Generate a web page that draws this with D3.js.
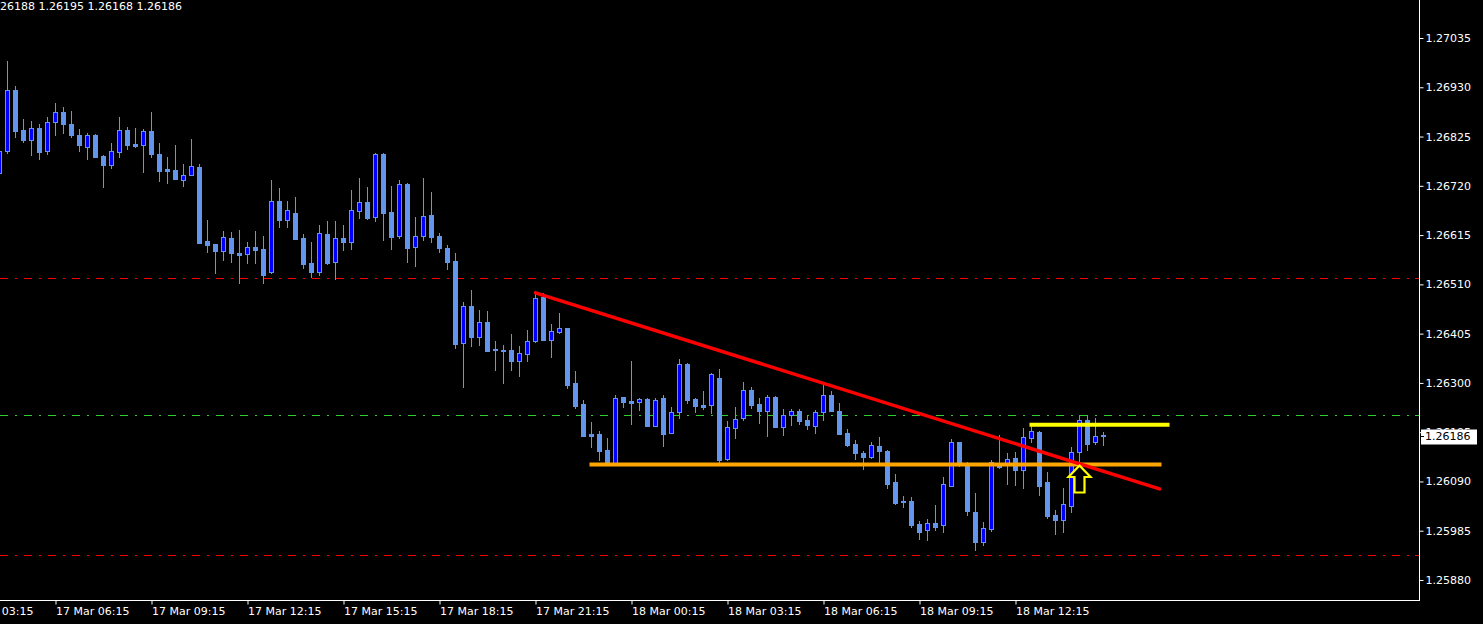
<!DOCTYPE html>
<html><head><meta charset="utf-8">
<script src="https://cdn.jsdelivr.net/npm/d3@7"></script>
<style>html,body{margin:0;padding:0;background:#000;overflow:hidden}svg{display:block}</style>
</head><body>
<svg id="chart" width="1483" height="624"></svg>
<script>
// ---- DATA (GBPUSD M15, 17 Mar 04:30 .. 18 Mar 15:00) ----
const openP = [1.26747,1.26795,1.26924,1.26839,1.26818,1.26843,1.26795,1.26857,1.26877,1.26852,1.26828,1.26803,1.26828,1.26784,1.26765,1.26793,1.26839,1.26809,1.26806,1.26837,1.26788,1.26756,1.26754,1.26733,1.26744,1.26760,1.26602,1.26596,1.26582,1.26609,1.26577,1.26574,1.26590,1.26585,1.26536,1.26688,1.26648,1.26662,1.26609,1.26555,1.26537,1.26617,1.26558,1.26609,1.26601,1.26667,1.26685,1.26654,1.26788,1.26664,1.26614,1.26724,1.26590,1.26614,1.26658,1.26613,1.26588,1.26560,1.26384,1.26464,1.26398,1.26430,1.26372,1.26371,1.26370,1.26347,1.26362,1.26390,1.26483,1.26392,1.26409,1.26417,1.26300,1.26255,1.26191,1.26191,1.26157,1.26129,1.26270,1.26261,1.26260,1.26266,1.26209,1.26268,1.26194,1.26237,1.26340,1.26266,1.26253,1.26252,1.26310,1.26137,1.26204,1.26226,1.26285,1.26255,1.26241,1.26270,1.26207,1.26232,1.26240,1.26222,1.26209,1.26237,1.26274,1.26240,1.26193,1.26170,1.26150,1.26143,1.26166,1.26155,1.26089,1.26048,1.26048,1.25999,1.25986,1.26001,1.25998,1.26081,1.26174,1.26123,1.26025,1.25962,1.25989,1.26122,1.26127,1.26140,1.26115,1.26183,1.26195,1.26089,1.26018,1.26008,1.26038,1.26153,1.26221,1.26175,1.26188];
const highP = [1.26801,1.26986,1.26933,1.26862,1.26858,1.26851,1.26867,1.26897,1.26888,1.26879,1.26841,1.26833,1.26830,1.26786,1.26811,1.26867,1.26845,1.26843,1.26841,1.26877,1.26811,1.26781,1.26807,1.26767,1.26820,1.26767,1.26647,1.26597,1.26624,1.26622,1.26626,1.26600,1.26624,1.26613,1.26732,1.26715,1.26688,1.26696,1.26617,1.26600,1.26636,1.26645,1.26645,1.26636,1.26711,1.26737,1.26717,1.26789,1.26789,1.26720,1.26732,1.26725,1.26654,1.26737,1.26707,1.26619,1.26594,1.26577,1.26472,1.26498,1.26455,1.26453,1.26389,1.26381,1.26404,1.26379,1.26413,1.26496,1.26492,1.26425,1.26449,1.26418,1.26325,1.26264,1.26217,1.26197,1.26183,1.26274,1.26271,1.26347,1.26268,1.26267,1.26268,1.26274,1.26249,1.26351,1.26342,1.26267,1.26283,1.26321,1.26330,1.26219,1.26249,1.26302,1.26291,1.26268,1.26274,1.26272,1.26244,1.26244,1.26244,1.26230,1.26242,1.26295,1.26283,1.26257,1.26202,1.26178,1.26155,1.26174,1.26185,1.26157,1.26106,1.26059,1.26057,1.26006,1.26010,1.26040,1.26100,1.26180,1.26175,1.26131,1.26065,1.26004,1.26136,1.26189,1.26151,1.26153,1.26204,1.26208,1.26197,1.26110,1.26029,1.26076,1.26163,1.26232,1.26232,1.26225,1.26195];
const lowP = [1.26741,1.26789,1.26825,1.26814,1.26786,1.26778,1.26788,1.26829,1.26833,1.26823,1.26795,1.26778,1.26781,1.26718,1.26759,1.26782,1.26799,1.26803,1.26750,1.26782,1.26731,1.26725,1.26734,1.26720,1.26742,1.26598,1.26580,1.26535,1.26562,1.26558,1.26513,1.26555,1.26555,1.26513,1.26535,1.26632,1.26632,1.26606,1.26545,1.26526,1.26531,1.26553,1.26522,1.26584,1.26586,1.26651,1.26649,1.26645,1.26604,1.26585,1.26609,1.26558,1.26549,1.26604,1.26600,1.26579,1.26543,1.26374,1.26291,1.26379,1.26381,1.26368,1.26328,1.26300,1.26328,1.26315,1.26347,1.26388,1.26391,1.26356,1.26407,1.26290,1.26246,1.26186,1.26164,1.26136,1.26128,1.26127,1.26249,1.26213,1.26242,1.26208,1.26208,1.26166,1.26193,1.26226,1.26258,1.26239,1.26244,1.26236,1.26131,1.26136,1.26183,1.26222,1.26247,1.26215,1.26187,1.26206,1.26190,1.26211,1.26213,1.26202,1.26194,1.26222,1.26240,1.26191,1.26166,1.26138,1.26117,1.26140,1.26130,1.26077,1.26043,1.26035,1.25993,1.25967,1.25966,1.25987,1.25982,1.26080,1.26123,1.26019,1.25944,1.25955,1.25985,1.26119,1.26085,1.26082,1.26076,1.26175,1.26061,1.26012,1.25978,1.25982,1.26025,1.26132,1.26157,1.26170,1.26168];
const closeP = [1.26794,1.26924,1.26837,1.26818,1.26843,1.26793,1.26855,1.26877,1.26852,1.26828,1.26806,1.26828,1.26782,1.26765,1.26794,1.26839,1.26808,1.26805,1.26837,1.26788,1.26752,1.26752,1.26735,1.26743,1.26762,1.26599,1.26594,1.26582,1.26611,1.26577,1.26573,1.26590,1.26584,1.26531,1.26688,1.26648,1.26668,1.26607,1.26554,1.26537,1.26619,1.26555,1.26609,1.26601,1.26668,1.26685,1.26651,1.26788,1.26663,1.26611,1.26724,1.26588,1.26613,1.26656,1.26611,1.26588,1.26558,1.26383,1.26464,1.26398,1.26430,1.26369,1.26370,1.26369,1.26347,1.26364,1.26389,1.26481,1.26392,1.26411,1.26417,1.26296,1.26251,1.26187,1.26187,1.26155,1.26129,1.26268,1.26260,1.26258,1.26266,1.26209,1.26264,1.26192,1.26238,1.26340,1.26264,1.26251,1.26249,1.26319,1.26136,1.26206,1.26224,1.26285,1.26253,1.26240,1.26270,1.26207,1.26232,1.26240,1.26219,1.26211,1.26238,1.26274,1.26241,1.26192,1.26168,1.26150,1.26142,1.26168,1.26155,1.26084,1.26044,1.26047,1.25997,1.25982,1.26001,1.25993,1.26084,1.26174,1.26127,1.26026,1.25961,1.25991,1.26131,1.26120,1.26138,1.26114,1.26185,1.26197,1.26080,1.26016,1.26008,1.26042,1.26153,1.26221,1.26170,1.26187,1.26186];

const priceTicks = [1.25880,1.25985,1.26090,1.26195,1.26300,1.26405,1.26510,1.26615,1.26720,1.26825,1.26930,1.27035];
const timeTickIdx = [-5,7,19,31,43,55,67,79,91,103,115,127];
const timeTickLabels = ["17 Mar 03:15","17 Mar 06:15","17 Mar 09:15","17 Mar 12:15","17 Mar 15:15","17 Mar 18:15","17 Mar 21:15","18 Mar 00:15","18 Mar 03:15","18 Mar 06:15","18 Mar 09:15","18 Mar 12:15"];
const headerText = "26188 1.26195 1.26168 1.26186";
const lastPrice = 1.26186;

// horizontal dash-dot levels
const levelPrices = [1.26524, 1.26231, 1.25933];
// trend line (bar index, price)
const trendIdx = [67, 145];
const trendPrice = [1.26492, 1.26074];
// support / resistance segments
const orangeIdx = [74, 145], orangePrice = 1.26126;
const yellowIdx = [129, 146], yellowPrice = 1.26211;
// arrow object
const arrowIdx = 135, arrowPrice = 1.26124;

// ---- DRAW ----
const W = 1483, H = 624, PW = 1419, PH = 600;
const svg = d3.select("#chart");
svg.append("rect").attr("width", W).attr("height", H).attr("fill", "#000");

const x = d3.scaleLinear().domain([0, 138]).range([-0.5, 1103.5]);
const y = d3.scaleLinear().domain([1.25880, 1.27035]).range([580, 38]);
const ry = v => Math.round(y(v));

svg.append("defs").append("clipPath").attr("id", "plot")
  .append("rect").attr("x", 0).attr("y", 0).attr("width", PW).attr("height", PH);

const plot = svg.append("g").attr("clip-path", "url(#plot)");

// level lines
const levelColors = ["#ff0000", "#32cd32", "#ff0000"];
plot.selectAll("line.level").data(levelPrices).join("line")
  .attr("class", "level")
  .attr("x1", 0).attr("x2", PW)
  .attr("y1", d => ry(d) + 0.5).attr("y2", d => ry(d) + 0.5)
  .attr("stroke", (d, i) => levelColors[i]).attr("stroke-width", 1)
  .attr("stroke-dasharray", "8,7,2,7");

const bars = d3.range(openP.length).map(i => ({i, o: openP[i], h: highP[i], l: lowP[i], c: closeP[i]}));
const wickCol = "#6495ED";
plot.selectAll("line.wick").data(bars).join("line")
  .attr("class", "wick")
  .attr("x1", d => x(d.i)).attr("x2", d => x(d.i))
  .attr("y1", d => ry(d.h)).attr("y2", d => ry(d.l) + 1)
  .attr("stroke", wickCol).attr("stroke-width", 1);

plot.selectAll("rect.body").data(bars).join("rect")
  .attr("class", "body")
  .each(function(d) {
    const top = ry(Math.max(d.o, d.c)), bot = ry(Math.min(d.o, d.c));
    const h = Math.max(1, bot - top + 1);
    const left = x(d.i) - 2.5;
    const el = d3.select(this);
    if (d.c > d.o && h >= 3) {
      el.attr("x", left + 0.5).attr("y", top + 0.5).attr("width", 4).attr("height", h - 1)
        .attr("fill", "#0000ff").attr("stroke", wickCol).attr("stroke-width", 1);
    } else {
      el.attr("x", left).attr("y", top).attr("width", 5).attr("height", h)
        .attr("fill", d.c > d.o ? "#0000ff" : wickCol)
        .attr("stroke", d.c > d.o ? wickCol : "none").attr("stroke-width", d.c > d.o ? 1 : 0);
    }
  });

// orange and yellow segments
plot.append("line")
  .attr("x1", x(orangeIdx[0])).attr("x2", x(orangeIdx[1]))
  .attr("y1", y(orangePrice)).attr("y2", y(orangePrice))
  .attr("stroke", "#ffa500").attr("stroke-width", 4).attr("stroke-linecap", "square");
plot.append("line")
  .attr("x1", x(yellowIdx[0])).attr("x2", x(yellowIdx[1]))
  .attr("y1", y(yellowPrice)).attr("y2", y(yellowPrice))
  .attr("stroke", "#ffff00").attr("stroke-width", 4).attr("stroke-linecap", "square");

// red trend line
plot.append("line")
  .attr("x1", x(trendIdx[0])).attr("x2", x(trendIdx[1]))
  .attr("y1", y(trendPrice[0])).attr("y2", y(trendPrice[1]))
  .attr("stroke", "#ff0000").attr("stroke-width", 3.4).attr("stroke-linecap", "round");

// arrow
const ax = x(arrowIdx), ay = y(arrowPrice);
const arrowPath = [[0,0],[11,11.5],[5,11.5],[5,27],[-5,27],[-5,11.5],[-11,11.5]];
plot.append("path")
  .attr("d", d3.line()(arrowPath.map(p => [ax + p[0], ay + p[1]])) + "Z")
  .attr("fill", "#000").attr("stroke", "#ffff00").attr("stroke-width", 2.2)
  .attr("stroke-linejoin", "miter");

// frame
svg.append("line").attr("x1", PW + 0.5).attr("x2", PW + 0.5).attr("y1", 0).attr("y2", PH + 1)
  .attr("stroke", "#fff").attr("stroke-width", 1);
svg.append("line").attr("x1", 0).attr("x2", PW + 1).attr("y1", PH + 0.5).attr("y2", PH + 0.5)
  .attr("stroke", "#fff").attr("stroke-width", 1);

const font = "'DejaVu Sans', Verdana, sans-serif";

// y axis
const yAxis = d3.axisRight(y).tickValues(priceTicks).tickFormat(d3.format(".5f"))
  .tickSize(4).tickPadding(2).tickSizeOuter(0);
const gy = svg.append("g").attr("transform", `translate(${PW + 0.5},0)`).call(yAxis);
gy.select(".domain").remove();
gy.selectAll(".tick line").attr("stroke", "#fff");
gy.selectAll(".tick text").attr("fill", "#fff").style("font-family", font).style("font-size", "11px");

// level markers on axis
svg.selectAll("line.lvlmark").data(levelPrices).join("line")
  .attr("class", "lvlmark")
  .attr("x1", PW - 4).attr("x2", PW - 1)
  .attr("y1", d => ry(d) + 0.5).attr("y2", d => ry(d) + 0.5)
  .attr("stroke", (d, i) => levelColors[i]);

// x axis
const xAxis = d3.axisBottom(x).tickValues(timeTickIdx)
  .tickFormat((d, i) => timeTickLabels[i]).tickSize(4).tickPadding(3).tickSizeOuter(0);
const gx = svg.append("g").attr("transform", `translate(0,${PH + 0.5})`).call(xAxis);
gx.select(".domain").remove();
gx.selectAll(".tick line").attr("stroke", "#fff");
gx.selectAll(".tick text").attr("fill", "#fff").attr("text-anchor", "start").attr("x", 0)
  .style("font-family", font).style("font-size", "11px");

// current price label
const ly = y(lastPrice);
svg.append("rect").attr("x", PW + 2).attr("y", Math.round(ly) - 6.5).attr("width", 56).attr("height", 15)
  .attr("fill", "#fff");
svg.append("line").attr("x1", PW + 1).attr("x2", PW + 5).attr("y1", Math.round(ly) + 0.5).attr("y2", Math.round(ly) + 0.5)
  .attr("stroke", "#000");
svg.append("text").attr("x", PW + 6).attr("y", ly).attr("dy", "0.36em")
  .attr("fill", "#000").style("font-family", font).style("font-size", "11px")
  .text(d3.format(".5f")(lastPrice));

// header
svg.append("text").attr("x", 0).attr("y", 10).attr("fill", "#fff")
  .style("font-family", font).style("font-size", "11px").text(headerText);
</script>
</body></html>
